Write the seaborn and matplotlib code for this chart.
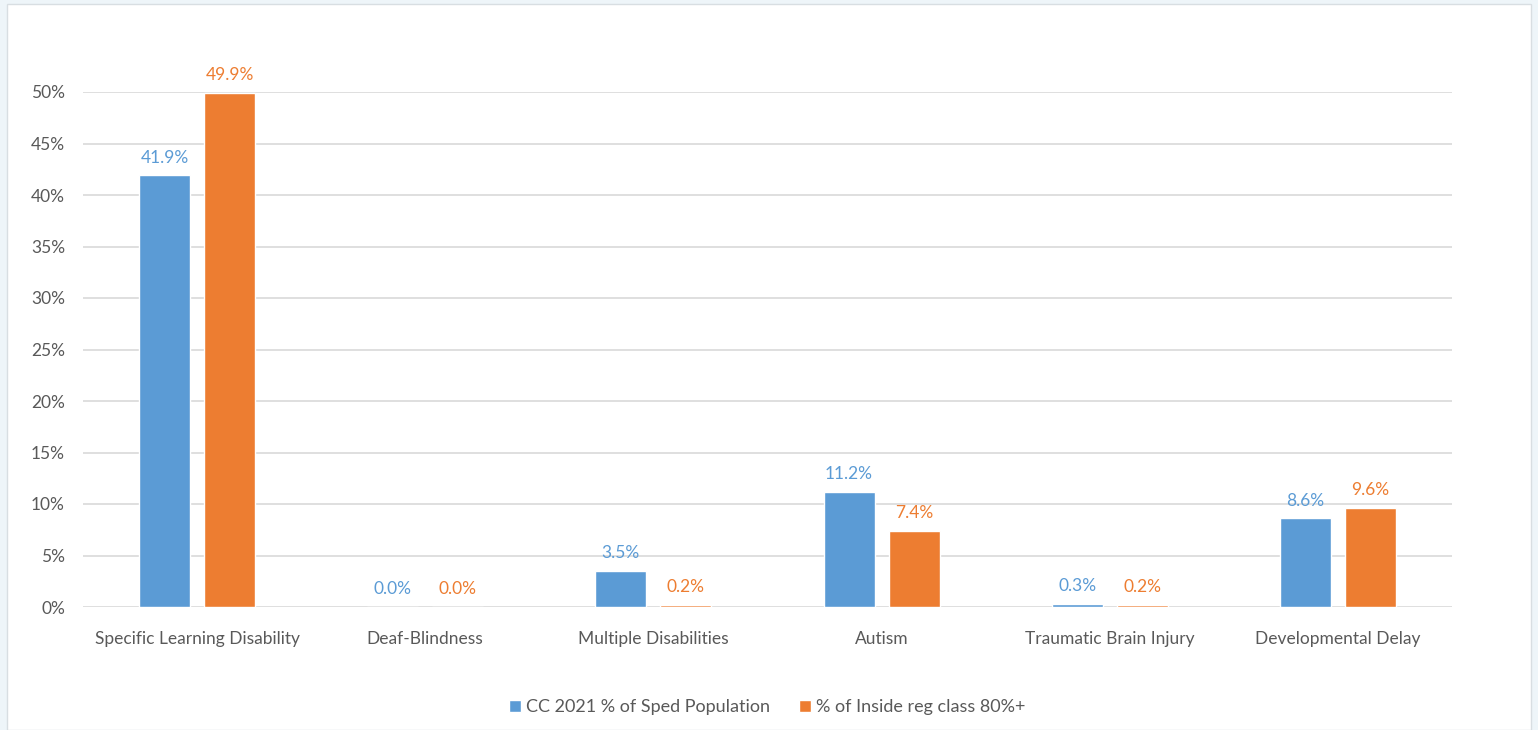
import matplotlib
matplotlib.use("Agg")
import matplotlib.pyplot as plt
import seaborn as sns
import pandas as pd
from matplotlib.patches import Rectangle

categories = ["Specific Learning Disability", "Deaf-Blindness", "Multiple Disabilities",
              "Autism", "Traumatic Brain Injury", "Developmental Delay"]
series_names = ["CC 2021 % of Sped Population", "% of Inside reg class 80%+"]
cc_2021 = [0.419, 0.000, 0.035, 0.112, 0.003, 0.086]
inside_reg = [0.499, 0.000, 0.002, 0.074, 0.002, 0.096]
y_ticks = [0, 0.05, 0.10, 0.15, 0.20, 0.25, 0.30, 0.35, 0.40, 0.45, 0.50]
y_tick_labels = ["0%", "5%", "10%", "15%", "20%", "25%", "30%", "35%", "40%", "45%", "50%"]

df = pd.DataFrame({
    "category": categories * 2,
    "series": [series_names[0]] * len(categories) + [series_names[1]] * len(categories),
    "value": cc_2021 + inside_reg,
})

sns.set_theme(style="white")
plt.rcParams["font.family"] = ["Lato", "DejaVu Sans"]

BLUE = "#5B9BD5"
ORANGE = "#ED7D31"
GRAY = "#595959"

fig = plt.figure(figsize=(15.38, 7.30), dpi=100)
fig.patch.set_facecolor("#EEF5F9")
fig.patches.append(Rectangle((7 / 1538, 0), 1 - 14 / 1538, 1 - 4 / 730,
                             transform=fig.transFigure, facecolor="white",
                             edgecolor="#D8DEE2", linewidth=1, zorder=-10))

ax = fig.add_axes([83 / 1538, 1 - 607 / 730, (1452 - 83) / 1538, (607 - 92) / 730])
ax.set_facecolor("none")

sns.barplot(data=df, x="category", y="value", hue="series", order=categories,
            hue_order=series_names, palette=[BLUE, ORANGE], width=0.57, gap=0.214,
            ax=ax, legend=True, errorbar=None, saturation=1)

for cont, col in zip(ax.containers, [BLUE, ORANGE]):
    labels = [f"{b.get_height() * 100:.1f}%" for b in cont]
    ax.bar_label(cont, labels=labels, padding=7, color=col, fontsize=12.5)

ax.set_ylim(0, 0.5)
ax.set_xlim(-0.5, len(categories) - 0.5)
ax.set_yticks(y_ticks)
ax.set_yticklabels(y_tick_labels)
ax.yaxis.grid(True, color="#D9D9D9", linewidth=1.2)
ax.set_axisbelow(True)
for s in ax.spines.values():
    s.set_visible(False)
ax.tick_params(axis="y", length=0, pad=13, labelsize=12.5, labelcolor=GRAY)
ax.tick_params(axis="x", length=0, pad=17, labelsize=12.5, labelcolor=GRAY)
ax.set_xlabel("")
ax.set_ylabel("")

leg = ax.legend(loc="center", bbox_to_anchor=(0.5, (607 - 707) / (607 - 92)), ncol=2,
                frameon=False, fontsize=13, handlelength=0.65, handleheight=0.65,
                handletextpad=0.3, columnspacing=1.6)
for t in leg.get_texts():
    t.set_color(GRAY)

fig.savefig("out.png", dpi=100)
